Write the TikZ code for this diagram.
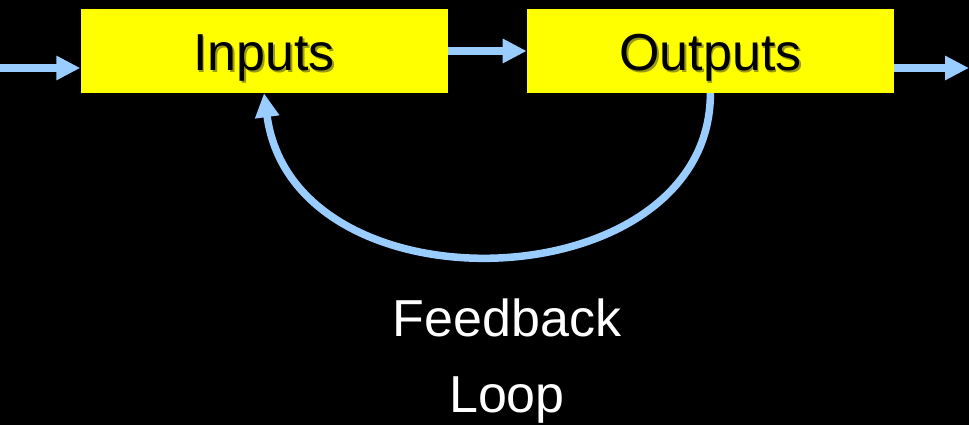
\documentclass[tikz,border=0pt]{standalone}
\usepackage{fontspec}
\setmainfont{Liberation Sans}
\usetikzlibrary{arrows.meta,positioning}
\definecolor{sky}{HTML}{99CCFF}
\definecolor{lemon}{HTML}{FFFF00}
\definecolor{olivedark}{HTML}{9a9a10}
\newcommand{\shadowed}[1]{\makebox[0pt][l]{\hspace{1.8pt}\raisebox{-1.8pt}{\color{olivedark}#1}}#1}

\begin{document}
\begin{tikzpicture}[x=1pt,y=1pt,
  node distance=79pt,
  box/.style={rectangle, fill=lemon, minimum width=367pt, minimum height=84pt,
              inner sep=0pt, font=\fontsize{52}{60}\selectfont,
              text height=50pt, text depth=10pt},
  arr/.style={-{Triangle[length=24pt,width=23pt]}, line width=7.5pt, draw=sky},
  lbl/.style={font=\fontsize{52}{76}\selectfont, text=white, align=center},
]
  \fill[black] (0,0) rectangle (969,425);
  \useasboundingbox (0,0) rectangle (969,425);
  \node[box] (in) at (264,374) {\shadowed{Inputs}};
  \node[box,right=of in] (out) {\shadowed{Outputs}};
  \coordinate (lin) at (0,357); \coordinate (rout) at (969,357);
  \draw[arr] (lin) -- (lin -| in.west);
  \draw[arr] (in.east) -- (out.west);
  \draw[arr] (out.east |- rout) -- (rout);
  \draw[arr] (out.south) .. controls +(0,-208) and +(30,-224) .. (in.south);
  \node[lbl, anchor=base] (fb) at (507,12) {Feedback\\Loop};
\end{tikzpicture}
\end{document}
